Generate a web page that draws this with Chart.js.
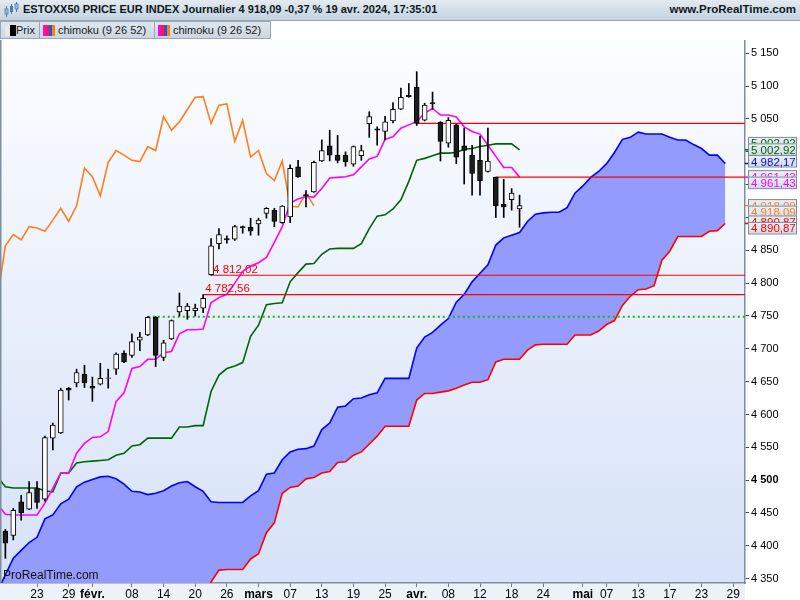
<!DOCTYPE html>
<html><head><meta charset="utf-8">
<script src="https://cdn.jsdelivr.net/npm/chart.js@4.4.1/dist/chart.umd.min.js"></script>
<style>
html,body{margin:0;padding:0;width:800px;height:600px;overflow:hidden;background:#fff;font-family:"Liberation Sans",Arial,sans-serif;}
#hdr{position:absolute;left:0;top:0;width:800px;height:21px;background:linear-gradient(#e3eaf1,#c4d2df);border-bottom:1px solid #97a8b8;box-sizing:border-box;}
#hdr .t{position:absolute;left:23px;top:3px;font-weight:bold;font-size:11px;color:#101820;white-space:nowrap;}
#hdr .r{position:absolute;right:4px;top:3px;font-weight:bold;font-size:11.5px;color:#101820;white-space:nowrap;}
#leg{position:absolute;left:0;top:21px;width:800px;height:19px;background:#fff;}
.lb{position:absolute;top:0;height:18px;border:1px solid #9aa8b5;border-left:none;background:linear-gradient(#dfe6ed,#ccd6e0);box-sizing:border-box;font-size:11px;color:#1a1a1a;}
.lb span{position:absolute;top:2px;white-space:nowrap;}
.lb i{position:absolute;top:3px;height:11px;display:block;}
#wrap{position:absolute;left:0;top:40px;width:800px;height:560px;}
</style></head>
<body>
<div id="hdr">
<svg width="18" height="18" style="position:absolute;left:3px;top:1px">
<line x1="3.5" y1="5" x2="3.5" y2="16" stroke="#4f7aa6"/><rect x="2" y="8" width="3" height="5" fill="#9fbfdf" stroke="#4f7aa6" stroke-width="0.8"/>
<line x1="8.5" y1="3" x2="8.5" y2="13" stroke="#4f7aa6"/><rect x="7" y="5" width="3" height="6" fill="#4f7aa6"/>
<line x1="13.5" y1="1" x2="13.5" y2="11" stroke="#4f7aa6"/><rect x="12" y="3" width="3" height="5" fill="#9fbfdf" stroke="#4f7aa6" stroke-width="0.8"/>
</svg>
<span class="t">ESTOXX50 PRICE EUR INDEX Journalier 4 918,09 -0,37 % 19 avr. 2024, 17:35:01</span>
<span class="r">www.ProRealTime.com</span>
</div>
<div id="leg">
<div class="lb" style="left:0;width:40px;border-left:1px solid #9aa8b5"><i style="left:4px;width:5px;background:#e8e8e8"></i><i style="left:9px;width:6px;background:#000"></i><span style="left:15px">Prix</span></div>
<div class="lb" style="left:40px;width:115px"><i style="left:3px;width:3px;background:#ff00ff"></i><i style="left:6px;width:3px;background:#ff2020"></i><i style="left:9px;width:3px;background:#2050ff"></i><i style="left:12px;width:3px;background:#ff8000"></i><span style="left:18px">chimoku (9 26 52)</span></div>
<div class="lb" style="left:155px;width:116px"><i style="left:3px;width:3px;background:#ff00ff"></i><i style="left:6px;width:3px;background:#ff2020"></i><i style="left:9px;width:3px;background:#2050ff"></i><i style="left:12px;width:3px;background:#ff8000"></i><span style="left:18px">chimoku (9 26 52)</span></div>
</div>
<div id="wrap"><canvas id="c" width="800" height="560"></canvas></div>
<script>
// ---------- data ----------
const opens  = [4422,4416,4467,4456,4487,4471,4564,4572,4640,4648,4661,4643,4646,4655,4669,4693,4690,4713,4721,4748,4687,4715,4756,4758,4758,4762,4813,4860,4868,4867,4886,4885,4890,4906,4911,4892,4901,4977,4935,4939,4986,5009,4995,4995,4981,4994,5043,5035,5031,5047,5065,5086,5098,5048,5075,5045,5013,5041,5009,4995,4987,4970,4961.43,4920,4927,4913];
const highs  = [4425,4457,4477,4498,4498,4567,4587,4640,4641,4669,4675,4657,4678,4669,4694,4697,4723,4725,4749,4749,4713,4744,4785,4769,4768,4782.56,4868,4883,4872,4888,4887,4899,4899,4915,4914,4918,4980,4987,4941,4986,5018,5033,5025,5000,5009,5010,5061,5038,5054,5075,5097,5104,5122,5074,5091,5046,5052,5042,5036,5010,5024,5036,4961.43,4958,4944,4934];
const lows   = [4381,4409,4439,4455,4457,4468,4546,4571,4622,4642,4641,4620,4645,4640,4661,4679,4687,4697,4720,4673,4682,4714,4750,4745,4750,4755,4812.02,4852,4861,4865,4876,4873,4873,4899,4886,4891,4892,4961,4916,4938,4985,4986,4983,4978,4978,4987,5022,5010,5018,5044,5064,5083,5040,5047,5065,4986,5007,4982,4951,4934,4934,4969,4900,4900,4911,4885];
const closes = [4404,4454,4450,4481,4466,4565,4584,4637,4637,4664,4648,4640,4655,4656,4692,4680,4711,4718,4748,4690,4709,4743,4765,4765,4762,4777,4857,4874,4866,4886,4884,4879,4896,4914,4894,4917.5,4975,4962,4933,4984,5002,4995,4987,4985,5008,5002,5053.5,5033,5045.5,5064.5,5083,5084,5043.4,5071,5073,5016,5048,4992,5002,4967,4956,4986,4917.5,4916,4937,4918.09];

// Ichimoku lines (first value is the session before the first candle)
const lineStart = -1;
const tenkan = [4463,4448,4447,4447,4447,4447,4465,4488,4511,4511,4541,4556,4565,4566,4574,4620,4633,4670,4673,4684,4684,4694,4696,4723,4729,4729,4730,4770,4778,4783,4800,4818,4826,4831,4839,4862,4886,4922,4928,4932,4931,4944,4960,4961,4962,4965,4977,4989,4993,5019,5023,5036,5041,5046,5059,5066,5056,5056,5053,5038,5031,5027,5010,4993,4976,4976,4961.43];
const kijun  = [4505,4490,4488,4488,4488,4488,4484,4482,4511,4511,4526,4528,4529,4530,4531,4538,4541,4552,4554,4564,4564,4564,4564,4581,4581,4583,4583,4635,4660,4670,4674,4679,4719,4736,4767,4769,4770,4802,4816,4829,4830,4844,4852,4853,4853,4853,4860,4883,4902,4904,4913,4927,4955,4987,4990,4994,4998,4998,4999,5004,5005,5008,5010,5012,5012,5012,5002.92];
// Senkou spans (already shifted 26 sessions ahead), from session -1 to 91
const senkouA = [4330,4356,4381,4393,4405,4413,4441,4447,4464,4471,4490,4497,4501,4505,4506,4502,4494,4483,4482,4478,4480,4484,4491,4496,4498,4490,4483,4467,4466,4466,4466,4466,4476,4484,4509,4511,4531,4543,4547,4548,4552,4577,4587,4611,4613,4624,4625,4630,4633,4655,4655,4655,4655,4701,4718,4725,4736,4746,4771,4783,4802,4815,4828,4858,4869,4873,4877,4894,4905,4907,4908,4908,4915,4937,4948,4961,4970,4982,4999,5019,5022,5030,5027,5027,5027,5022,5018,5018,5011,5005,4995,4995,4982.17];
const senkouB = [4300,4300,4300,4300,4300,4300,4300,4300,4300,4300,4300,4300,4300,4300,4300,4300,4300,4300,4300,4300,4300,4300,4300,4300,4300,4300,4322,4345,4363,4364,4364,4364,4380,4388,4420,4435,4480,4489,4491,4502,4504,4511,4513,4527,4528,4538,4543,4555,4567,4582,4582,4582,4582,4622,4632,4632,4634,4636,4640,4645,4649,4649,4653,4680,4684,4684,4684,4698,4706,4707,4707,4707,4707,4721,4721,4721,4727,4737,4743,4766,4780,4790,4791,4796,4835,4849,4871,4871,4871,4871,4879,4880,4890.87];
const chikouShift = 26;

// horizontal levels (value, session where it starts)
const levelValues = [5043.4, 4961.43, 4812.02, 4782.56, 4749];
const levelFrom   = [52, 62, 26, 25, 18];

// axis ticks
const xTickIdx  = [4,8,11,16,20,24,28,32,36,40,44,48,52,56,60,64,68,73,76,80,84,88,92];
const xTickText = ['23','29','févr.','08','14','20','26','mars','07','13','19','25','avr.','08','12','18','24','mai','07','13','17','23','29'];
const yTicks = [4350,4400,4450,4500,4550,4600,4650,4700,4750,4800,4850,4900,4950,5000,5050,5100,5150];

// ---------- view ----------
const X_MIN = -0.68, X_MAX = 93.5, Y_MIN = 4343.4, Y_MAX = 5170.25;
const FONT = '"Liberation Sans", Arial, sans-serif';
const C_TENKAN='#ff00ff', C_KIJUN='#006400', C_CHIKOU='#ff7f1e', C_A='#0000ff', C_B='#ff0000', C_CLOUD='#939bfc';

function fmt(v, d){
  const s = v.toFixed(d).split('.');
  const a = s[0].replace(/\B(?=(\d{3})+(?!\d))/g, ' ');
  return s[1] ? a + ',' + s[1] : a;
}

const seriesXY = (arr, start) => arr.map((v,i) => ({x: i + start, y: v}));
const candleIdx = opens.map((_, i) => i);
const wickData = candleIdx.map(i => ({x: i, y: [lows[i], highs[i]]}));
const bodyData = candleIdx.map(i => ({x: i, y: [opens[i], closes[i]]}));
const chikouData = closes.map((c, i) => ({x: i - chikouShift, y: c})).filter(p => p.x >= lineStart);

const levelStyles = [
  {color:'#ff0000', dash:[], width:1.2, label:false},
  {color:'#ff0000', dash:[], width:1.2, label:false},
  {color:'#ff0000', dash:[], width:1.2, label:true},
  {color:'#ff0000', dash:[], width:1.2, label:true},
  {color:'#22b022', dash:[2,3], width:2, label:false}
];

const lineDs = (data, color, order, extra) => Object.assign({
  type:'line', data, borderColor: color, borderWidth: 1.6, pointRadius: 0, tension: 0, fill: false, order
}, extra || {});

const datasets = [
  lineDs(seriesXY(senkouB, lineStart), C_B, 20),
  lineDs(seriesXY(senkouA, lineStart), C_A, 19, {fill: {target: 0, above: C_CLOUD, below: C_CLOUD}}),
  lineDs(chikouData, C_CHIKOU, 18),
  lineDs(seriesXY(kijun, lineStart), C_KIJUN, 17),
  lineDs(seriesXY(tenkan, lineStart), C_TENKAN, 16)
];
levelValues.forEach((v, k) => {
  const st = levelStyles[k];
  datasets.push(lineDs([{x: levelFrom[k], y: v}, {x: X_MAX, y: v}], st.color, 10 + k, {borderWidth: st.width, borderDash: st.dash}));
});
datasets.push({
  type:'bar', data: wickData, backgroundColor:'#000', borderWidth:0, barThickness:1, grouped:false, order:2
});
datasets.push({
  type:'bar', data: bodyData, grouped:false, order:1, barThickness:5, borderWidth:1, borderColor:'#000', borderSkipped:false,
  backgroundColor: c => (closes[c.dataIndex] >= opens[c.dataIndex] ? '#ffffff' : '#1c1c1c')
});

const tags = [
  {v: kijun[kijun.length-1],     color:'#006400', ghost:true,  dy:-6.5},
  {v: senkouA[senkouA.length-1], color:'#0000ff', ghost:false, dy:-8.5},
  {v: tenkan[tenkan.length-1],   color:'#ff00ff', ghost:true,  dy:-0.5},
  {v: closes[closes.length-1],   color:'#ff7f1e', ghost:true,  dy:0},
  {v: senkouB[senkouB.length-1], color:'#ff0000', ghost:true,  dy:-1.5}
];

const bgPlugin = {
  id:'bg',
  beforeDraw(chart){
    const {ctx, chartArea:a} = chart;
    ctx.save();
    const g = ctx.createLinearGradient(0, a.top, 0, a.bottom);
    g.addColorStop(0, '#fcfdff');
    g.addColorStop(1, '#d6e2f8');
    ctx.fillStyle = g;
    ctx.fillRect(a.left, a.top, a.right - a.left, a.bottom - a.top);
    ctx.fillStyle = '#edf2f9';
    ctx.fillRect(a.left, a.bottom, a.right - a.left, chart.height - a.bottom);
    ctx.restore();
  }
};

function drawTag(ctx, left, top, t){
  const h = 11.5, w = 49;
  const g = ctx.createLinearGradient(0, top, 0, top + h);
  g.addColorStop(0, '#eef2f7'); g.addColorStop(1, '#d2dbe5');
  ctx.fillStyle = g;
  ctx.fillRect(left, top, w, h);
  ctx.strokeStyle = '#7a8b9b'; ctx.lineWidth = 1; ctx.setLineDash([]);
  ctx.strokeRect(left + 0.5, top + 0.5, w - 1, h);
  ctx.fillStyle = t.color;
  ctx.font = '11.5px ' + FONT;
  ctx.textBaseline = 'alphabetic';
  ctx.textAlign = 'left';
  ctx.fillText(fmt(t.v, 2), left + 3, top + 10.5);
}

const overlay = {
  id:'overlay',
  afterDraw(chart){
    const {ctx, chartArea:a, scales:{x, y}} = chart;
    ctx.save();
    // left border
    ctx.strokeStyle = '#7f8e9c'; ctx.lineWidth = 1.5;
    ctx.beginPath(); ctx.moveTo(0.75, a.top); ctx.lineTo(0.75, a.bottom); ctx.stroke();
    // watermark
    ctx.font = '12px "Liberation Sans Narrow", ' + FONT;
    ctx.fillStyle = '#111'; ctx.textBaseline = 'alphabetic'; ctx.textAlign = 'left';
    ctx.fillText('ProRealTime.com', 3, a.bottom - 4);
    // level labels
    ctx.font = '11.5px ' + FONT;
    levelValues.forEach((v, k) => {
      if (!levelStyles[k].label) return;
      ctx.fillStyle = levelStyles[k].color;
      ctx.fillText(fmt(v, 2), x.getPixelForValue(levelFrom[k]) + 2, y.getPixelForValue(v) - 2.5);
    });
    // right axis value tags
    tags.forEach(t => {
      const p = y.getPixelForValue(t.v);
      ctx.strokeStyle = t.color; ctx.lineWidth = 1.5;
      ctx.beginPath(); ctx.moveTo(a.right, p); ctx.lineTo(a.right + 4, p); ctx.stroke();
      const top = p + t.dy;
      if (t.ghost) drawTag(ctx, a.right + 3, top - 6.5, t);
      drawTag(ctx, a.right + 3, top, t);
    });
    ctx.restore();
  }
};

new Chart(document.getElementById('c'), {
  type:'line',
  data:{datasets},
  plugins:[bgPlugin, overlay],
  options:{
    responsive:false, animation:false, devicePixelRatio:1,
    layout:{padding:0},
    events:[],
    plugins:{legend:{display:false}, tooltip:{enabled:false}, filler:{drawTime:'beforeDatasetsDraw'}},
    scales:{
      x:{
        type:'linear', position:'bottom', min:X_MIN, max:X_MAX, offset:false,
        grid:{display:true, drawOnChartArea:false, drawTicks:true, tickLength:4, color:'#6f7e8c', offset:false},
        border:{display:true, color:'#7f8e9c', width:1.5},
        afterBuildTicks: s => { s.ticks = xTickIdx.map(v => ({value:v})); },
        afterFit: s => { s.height = 17; s.paddingLeft = 0; s.paddingRight = 0; },
        ticks:{
          autoSkip:false, maxRotation:0, minRotation:0, padding:0, color:'#000',
          callback: v => { const k = xTickIdx.indexOf(v); return k >= 0 ? xTickText[k] : ''; },
          font: c => {
            const k = c.tick ? xTickIdx.indexOf(c.tick.value) : -1;
            const isMonth = k >= 0 && isNaN(parseInt(xTickText[k], 10));
            return {family: FONT, size: 12, weight: isMonth ? 'bold' : 'normal'};
          }
        }
      },
      y:{
        type:'linear', position:'right', min:Y_MIN, max:Y_MAX,
        grid:{display:true, drawOnChartArea:false, drawTicks:true, tickLength:4, color:'#404a54'},
        border:{display:true, color:'#7f8e9c', width:1.5},
        afterBuildTicks: s => { s.ticks = yTicks.map(v => ({value:v})); },
        afterFit: s => { s.width = 55; s.paddingTop = 0; s.paddingBottom = 0; },
        ticks:{
          padding:2, color:'#000', align:'center', crossAlign:'near',
          callback: v => fmt(v, 0),
          font: c => ({family: FONT, size: 11, weight: (c.tick && c.tick.value === 4500) ? 'bold' : 'normal'})
        }
      }
    }
  }
});
</script>
</body></html>
